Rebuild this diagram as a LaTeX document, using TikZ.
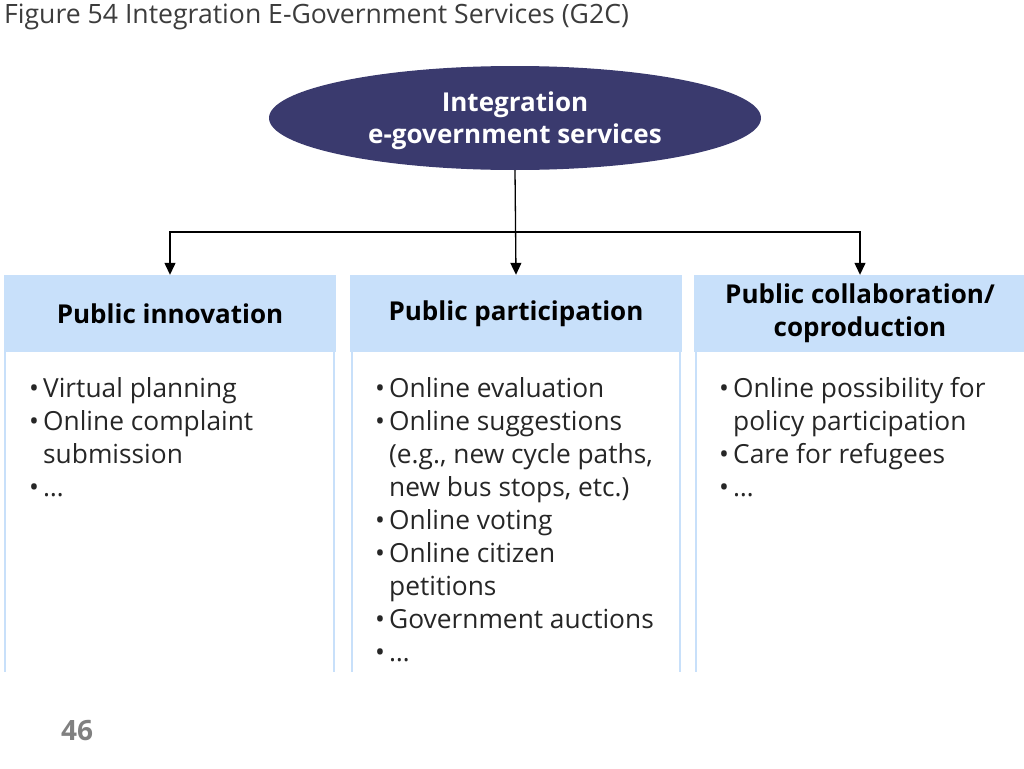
\documentclass[tikz,border=0pt]{standalone}
\usepackage{fontspec}
\setmainfont{Open Sans}
\usepackage{xcolor}
\usetikzlibrary{shapes.geometric,arrows.meta}
\definecolor{hubfill}{HTML}{3A3A6E}
\definecolor{headfill}{HTML}{C8E0FA}
\definecolor{titlegrey}{HTML}{3C3C3C}
\newcommand{\itm}[1]{\makebox[14pt][l]{\textbullet}#1\\}
\newcommand{\cont}[1]{\hspace*{14pt}#1\\}

\begin{document}
\begin{tikzpicture}[x=1pt,y=-1pt,
  hub/.style={ellipse,fill=hubfill,text=white,minimum width=492pt,minimum height=104pt,inner sep=0pt,text depth=0pt,align=center,font=\fontsize{26}{32}\selectfont\bfseries},
  head/.style={rectangle,fill=headfill,minimum width=332pt,minimum height=77pt,inner sep=0pt,align=center,font=\fontsize{26}{33}\selectfont\bfseries},
  items/.style={anchor=north west,inner sep=0pt,align=left,font=\fontsize{26.3}{33}\selectfont,text=black!85},
  rule/.style={draw=headfill,line width=2pt},
  link/.style={draw=black,line width=1.3pt,-{Triangle[width=11pt,length=12pt]}}]
\useasboundingbox (0,0) rectangle (1024,768);
\node[anchor=west,inner sep=0pt,text=titlegrey,font=\fontsize{26.6}{30}\selectfont] (title) at (4,17) {Figure 54 Integration E-Government Services (G2C)};
\node[hub] (hub) at (515,118) {Integration\\e-government services};
\node[head] (innov) at (170,313.5) {Public innovation};
\node[head] (partic) at (516,313.5) {Public participation};
\node[head] (collab) at (860,313.5) {Public collaboration/\\coproduction};
% column sides
\draw[rule] ([xshift=1pt]innov.south west) -- ++(0,320);
\draw[rule] ([xshift=-2pt]innov.south east) -- ++(0,320);
\draw[rule] ([xshift=2pt]partic.south west) -- ++(0,320);
\draw[rule] ([xshift=-2pt]partic.south east) -- ++(0,320);
\draw[rule] ([xshift=2pt]collab.south west) -- ++(0,320);
% connectors
\coordinate (bus) at (515,232);
\draw[link] (hub.south) -- (partic.north);
\draw[link] (bus) -| (innov.north);
\draw[link] (bus) -| (collab.north);
% lists
\node[items] (innovlist) at (29,377) {\itm{Virtual planning}\itm{Online complaint}\cont{submission}\itm{\dots}};
\node[items] (particlist) at (375,377) {\itm{Online evaluation}\itm{Online suggestions}\cont{(e.g., new cycle paths,}\cont{new bus stops, etc.)}\itm{Online voting}\itm{Online citizen}\cont{petitions}\itm{Government auctions}\itm{\dots}};
\node[items] (collablist) at (719,377) {\itm{Online possibility for}\cont{policy participation}\itm{Care for refugees}\itm{\dots}};
\node[anchor=west,inner sep=0pt,text=black!50,font=\fontsize{28}{30}\selectfont\bfseries] (page) at (61,731) {46};
\end{tikzpicture}
\end{document}
